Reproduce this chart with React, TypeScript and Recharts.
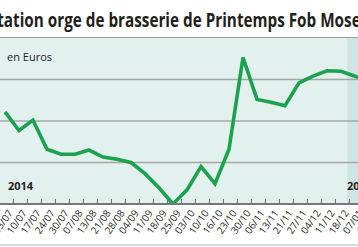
import { LineChart, Line, XAxis, YAxis, ReferenceArea, ReferenceLine } from 'recharts';

// weekly quotes, jul 2014 -> jan 2015 (€/t)
const dates = [
  '03/07', '10/07', '17/07', '24/07', '30/07', '07/08', '13/08', '21/08', '28/08',
  '04/09', '11/09', '18/09', '25/09', '03/10', '10/10', '16/10', '23/10', '30/10',
  '06/11', '13/11', '21/11', '27/11', '04/12', '11/12', '18/12', '07/01', '15/01',
];
const prices = [
  182.2, 177.7, 180.2, 173.2, 172.0, 172.0, 173.0, 171.3, 170.8,
  170.0, 167.3, 163.9, 160.0, 163.4, 169.0, 164.9, 173.2, 195.3,
  185.2, 184.5, 183.7, 189.2, 190.8, 192.1, 192.0, 190.8, 189.5,
];
const gridValues = [170, 180, 190];
const years = ['2014', '2015'];
const yearStart2015 = 24.45;

const data = prices.map((price, i) => ({ i, price }));
const tickPositions = dates.map((_, j) => j + 0.6);

const GREEN = '#1ba24e';

function DateTick({ x, y, payload }: any) {
  const j = Math.round(payload.value - 0.6);
  const tx = x - 3;
  const ty = y + 7;
  return (
    <g>
      <line x1={x} x2={x} y1={y - 5} y2={y} stroke="#6b6b6b" strokeWidth={1} />
      <text
        x={tx}
        y={ty}
        dy="0.35em"
        textAnchor="end"
        transform={`rotate(-55 ${tx} ${ty})`}
        fontSize={10}
        fontFamily="'Open Sans', sans-serif"
        fill="#2b2b2b"
      >
        {dates[j]}
      </text>
    </g>
  );
}

export default function App() {
  return (
    <div
      style={{
        position: 'absolute', left: 0, top: 0, width: 358, height: 247,
        overflow: 'hidden', background: '#fff',
      }}
    >
      <svg width={358} height={37} style={{ position: 'absolute', left: 0, top: 0 }}>
        <text
          x={-22}
          y={27}
          textLength={401}
          lengthAdjust="spacingAndGlyphs"
          fontSize={20}
          fontWeight={700}
          fontFamily="'Open Sans', sans-serif"
          fill="#231f20"
        >
          Cotation orge de brasserie de Printemps Fob Moselle
        </text>
      </svg>
      <div style={{ position: 'absolute', left: 0, top: 37, width: 358, height: 1, background: '#9c9c9c' }} />
      <div style={{ position: 'absolute', left: 0, top: 38, width: 358, height: 166, background: '#e3f1ee' }} />
      <div style={{ position: 'absolute', left: 0, top: 244, width: 358, height: 2, background: '#d9d9d9' }} />

      <div style={{ position: 'absolute', left: -30, top: 37 }}>
        <LineChart width={420} height={210} data={data} margin={{ top: 1, right: 0, bottom: 0, left: 0 }}>
          <XAxis
            type="number"
            dataKey="i"
            domain={[-2.5, 27.5]}
            allowDataOverflow
            ticks={tickPositions}
            interval={0}
            tick={<DateTick />}
            tickLine={false}
            tickSize={0}
            tickMargin={0}
            height={43}
            axisLine={{ stroke: '#777', strokeWidth: 2 }}
          />
          <YAxis hide domain={[160, 200]} allowDataOverflow />
          <ReferenceArea x1={yearStart2015} fill="#d0e4e3" fillOpacity={1} stroke="none" />
          {gridValues.map(v => (
            <ReferenceLine key={v} y={v} stroke="#a3a7a6" strokeWidth={1.6} />
          ))}
          <Line
            type="linear"
            dataKey="price"
            stroke={GREEN}
            strokeWidth={3.6}
            dot={false}
            strokeLinejoin="miter"
            isAnimationActive={false}
          />
        </LineChart>
      </div>

      <div style={{ position: 'absolute', left: 7, top: 49, fontFamily: "'Open Sans', sans-serif", fontSize: 11, color: '#222' }}>
        en Euros
      </div>
      <div style={{ position: 'absolute', left: 8, top: 178, fontFamily: "'Open Sans', sans-serif", fontSize: 11, fontWeight: 700, color: '#222' }}>
        {years[0]}
      </div>
      <div style={{ position: 'absolute', left: 347, top: 178, fontFamily: "'Open Sans', sans-serif", fontSize: 11, fontWeight: 700, color: '#222' }}>
        {years[1]}
      </div>
    </div>
  );
}
